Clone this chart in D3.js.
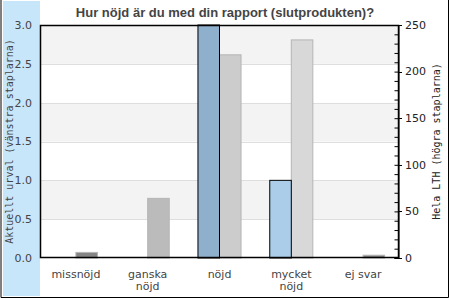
<!DOCTYPE html>
<html>
<head>
<meta charset="utf-8">
<title>Hur nöjd är du med din rapport</title>
<script src="https://d3js.org/d3.v7.min.js"></script>
<style>
  body { margin: 0; background: #fff; }
  svg { display: block; }
</style>
</head>
<body>
<svg width="450" height="300"></svg>
<script>
// data
var categories = ["missnöjd", "ganska nöjd", "nöjd", "mycket nöjd", "ej svar"];
var labelLines = [["missnöjd"], ["ganska", "nöjd"], ["nöjd"], ["mycket", "nöjd"], ["ej svar"]];
var urval = [0, 0, 3, 1, 0];          // vänstra staplarna
var helaLTH = [6, 64, 218, 234, 3];   // högra staplarna
var leftTicks = [0, 0.5, 1, 1.5, 2, 2.5, 3];
var rightTicks = [0, 50, 100, 150, 200, 250];
var blueFill = ["#8fb0cc", "#8fb0cc", "#8fb0cc", "#abcde9", "#8fb0cc"];
var greyFill = ["#858585", "#bbbbbb", "#cccccc", "#d8d8d8", "#858585"];

var svg = d3.select("svg");
var pLeft = 40, pRight = 399, pTop = 25, pBottom = 258;

var x = d3.scaleBand().domain(categories).range([pLeft, pRight]);
var yL = d3.scaleLinear().domain([0, 3]).range([pBottom, pTop]);
var yR = d3.scaleLinear().domain([0, 250]).range([pBottom, pTop]);

// bakgrund vänster
svg.append("rect").attr("x", 3).attr("y", 1).attr("width", 37).attr("height", 295)
  .attr("fill", "#c8e6fa");

// band
var bands = d3.range(0, 3, 0.5);
svg.append("g").selectAll("rect").data(bands).enter().append("rect")
  .attr("x", pLeft).attr("width", pRight - pLeft)
  .attr("y", function(d) { return yL(d + 0.5); })
  .attr("height", function(d) { return yL(d) - yL(d + 0.5); })
  .attr("fill", function(d, i) { return i % 2 == 1 ? "#f3f3f3" : "#ffffff"; });

svg.append("g").selectAll("line").data(leftTicks.slice(1, -1)).enter().append("line")
  .attr("x1", pLeft).attr("x2", pRight)
  .attr("y1", function(d) { return Math.round(yL(d)) + 0.5; })
  .attr("y2", function(d) { return Math.round(yL(d)) + 0.5; })
  .attr("stroke", "#dedede");

var bw = x.bandwidth() * 0.3;
function cx(d) { return x(d) + x.bandwidth() / 2; }

// högra staplar (grå)
svg.append("g").selectAll("rect").data(categories).enter().append("rect")
  .attr("x", function(d) { return cx(d); })
  .attr("width", bw)
  .attr("y", function(d, i) { return yR(helaLTH[i]); })
  .attr("height", function(d, i) { return pBottom - yR(helaLTH[i]); })
  .attr("fill", function(d, i) { return greyFill[i]; })
  .attr("stroke", "#b5b5b5");

// vänstra staplar (blå)
svg.append("g").selectAll("rect").data(categories.filter(function(d, i) { return urval[i] > 0; }))
  .enter().append("rect")
  .attr("x", function(d) { return cx(d) - bw; })
  .attr("width", bw)
  .attr("y", function(d) { return yL(urval[categories.indexOf(d)]); })
  .attr("height", function(d) { return pBottom - yL(urval[categories.indexOf(d)]); })
  .attr("fill", function(d) { return blueFill[categories.indexOf(d)]; })
  .attr("stroke", "#000");

// ram
svg.append("rect").attr("x", pLeft + 0.5).attr("y", pTop + 0.5)
  .attr("width", pRight - pLeft - 1).attr("height", pBottom - pTop - 1)
  .attr("fill", "none").attr("stroke", "#000").attr("stroke-width", 1.5);

// vänster axel
svg.append("g").selectAll("text").data(leftTicks).enter().append("text")
  .attr("x", 32).attr("y", function(d) { return yL(d); })
  .attr("dy", "0.35em").attr("text-anchor", "end")
  .attr("font-family", "DejaVu Sans").attr("font-size", 11).attr("fill", "#444")
  .text(function(d) { return d3.format(".1f")(d); });

// höger axel
var axR = d3.axisRight(yR).tickValues(d3.range(0, 251, 10)).tickSize(-4).tickFormat("");
svg.append("g").attr("transform", "translate(" + (pRight - 0.5) + ",0)").call(axR)
  .call(function(g) {
    g.select(".domain").attr("stroke", "#000");
    g.selectAll(".tick line").attr("stroke", "#000");
  });
svg.append("g").selectAll("line").data(rightTicks).enter().append("line")
  .attr("x1", pRight).attr("x2", pRight + 3)
  .attr("y1", function(d) { return Math.round(yR(d)) + 0.5; })
  .attr("y2", function(d) { return Math.round(yR(d)) + 0.5; })
  .attr("stroke", "#000");
svg.append("g").selectAll("text").data(rightTicks).enter().append("text")
  .attr("x", 405).attr("y", function(d) { return yR(d); })
  .attr("dy", "0.35em")
  .attr("font-family", "DejaVu Sans").attr("font-size", 11).attr("fill", "#222")
  .text(function(d) { return d; });

// kategorier
var cat = svg.append("g").selectAll("text").data(categories).enter().append("text")
  .attr("x", function(d) { return cx(d); })
  .attr("y", 278)
  .attr("text-anchor", "middle")
  .attr("font-family", "DejaVu Sans").attr("font-size", 11).attr("fill", "#444");
cat.each(function(d, i) {
  var t = d3.select(this);
  labelLines[i].forEach(function(s, j) {
    t.append("tspan").attr("x", cx(d)).attr("dy", j == 0 ? 0 : 12).text(s);
  });
});

// titlar
svg.append("text").attr("x", 225).attr("y", 17).attr("text-anchor", "middle")
  .attr("font-family", "Liberation Sans, Arial").attr("font-weight", "bold")
  .attr("font-size", 13).attr("fill", "#444")
  .text("Hur nöjd är du med din rapport (slutprodukten)?");

svg.append("text").attr("transform", "translate(13," + (pTop + pBottom) / 2 + ") rotate(-90)")
  .attr("text-anchor", "middle")
  .attr("font-family", "DejaVu Sans Mono").attr("font-size", 10).attr("fill", "#444")
  .text("Aktuellt urval (vänstra staplarna)");

svg.append("text").attr("transform", "translate(440," + (pTop + pBottom) / 2 + ") rotate(-90)")
  .attr("text-anchor", "middle")
  .attr("font-family", "DejaVu Sans Mono").attr("font-size", 10).attr("fill", "#222")
  .text("Hela LTH (högra staplarna)");

// yttre ram
svg.append("path").attr("d", "M1,0V297.5H448.5V0")
  .attr("fill", "none").attr("stroke", "#000");
</script>
</body>
</html>
